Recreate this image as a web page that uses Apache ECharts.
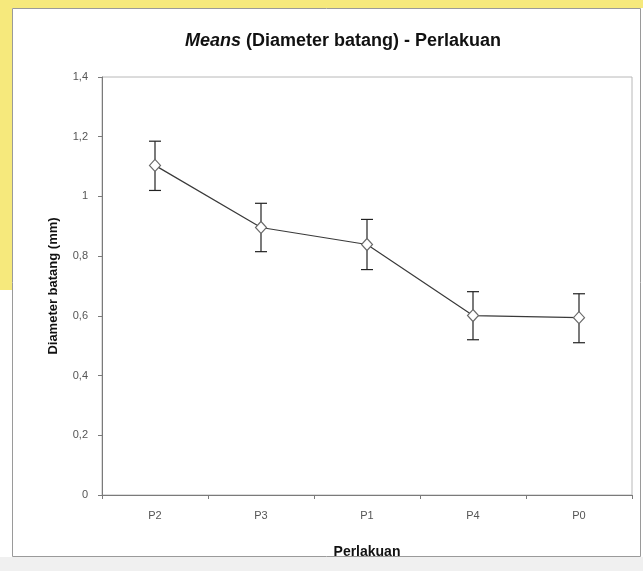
<!DOCTYPE html>
<html>
<head>
<meta charset="utf-8">
<script src="https://cdn.jsdelivr.net/npm/echarts@6/dist/echarts.min.js"></script>
<style>
html,body{margin:0;padding:0;background:#ffffff;}
#chart{width:643px;height:571px;}
</style>
</head>
<body>
<div id="chart"></div>
<script>
const categories = ['P2', 'P3', 'P1', 'P4', 'P0'];
const means = [1.104, 0.896, 0.839, 0.601, 0.594];
const errLow = [1.02, 0.815, 0.755, 0.52, 0.51];
const errHigh = [1.185, 0.977, 0.923, 0.681, 0.674];
const yTicks = { min: 0, max: 1.4, interval: 0.2 };

const chart = echarts.init(document.getElementById('chart'), null, { renderer: 'canvas' });

const errData = categories.map((c, i) => [i, errLow[i], errHigh[i]]);

const option = {
  backgroundColor: '#ffffff',
  animation: false,
  graphic: [
    { type: 'rect', z: -10, shape: { x: 0, y: 0, width: 643, height: 8 }, style: { fill: '#f6e97c' } },
    { type: 'rect', z: -10, shape: { x: 0, y: 0, width: 12, height: 290 }, style: { fill: '#f6e97c' } },
    { type: 'rect', z: -9, shape: { x: 0, y: 557, width: 643, height: 14 }, style: { fill: '#f0f0f0' } },
    { type: 'rect', z: -8, shape: { x: 12.5, y: 8.5, width: 628, height: 548 }, style: { fill: '#ffffff', stroke: '#9a9a9a', lineWidth: 1 } }
  ],
  title: {
    text: '{i|Means} (Diameter batang) - Perlakuan',
    left: 338,
    textAlign: 'center',
    top: 27,
    textStyle: {
      fontFamily: 'Liberation Sans',
      fontSize: 18,
      fontWeight: 'bold',
      color: '#111',
      rich: {
        i: { fontFamily: 'Liberation Sans', fontSize: 18, fontStyle: 'italic', fontWeight: 'bold', color: '#111' }
      }
    }
  },
  grid: {
    left: 102, right: 11, top: 77, bottom: 76,
    show: true, borderColor: '#b8b8b8', borderWidth: 1, backgroundColor: 'transparent'
  },
  xAxis: {
    type: 'category',
    data: categories,
    boundaryGap: true,
    name: 'Perlakuan',
    nameLocation: 'middle',
    nameGap: 50,
    nameTextStyle: { fontFamily: 'Liberation Sans', fontSize: 14, fontWeight: 'bold', color: '#111' },
    axisLine: { lineStyle: { color: '#7a7a7a', width: 1 } },
    axisTick: { show: true, length: 4, lineStyle: { color: '#7a7a7a' } },
    axisLabel: { margin: 15, fontFamily: 'Liberation Sans', fontSize: 11, color: '#555' }
  },
  yAxis: {
    type: 'value',
    min: yTicks.min,
    max: yTicks.max,
    interval: yTicks.interval,
    name: 'Diameter batang (mm)',
    nameLocation: 'middle',
    nameGap: 42,
    nameTextStyle: { fontFamily: 'Liberation Sans', fontSize: 13, fontWeight: 'bold', color: '#111' },
    axisLine: { show: true, lineStyle: { color: '#7a7a7a', width: 1 } },
    axisTick: { show: true, length: 4, lineStyle: { color: '#7a7a7a' } },
    splitLine: { show: false },
    axisLabel: {
      margin: 14,
      fontFamily: 'Liberation Sans', fontSize: 11, color: '#555',
      formatter: v => String(Math.round(v * 10) / 10).replace('.', ',')
    }
  },
  series: [
    {
      type: 'custom',
      z: 2,
      data: errData,
      renderItem: function (params, api) {
        const x = api.value(0);
        const lo = api.coord([x, api.value(1)]);
        const hi = api.coord([x, api.value(2)]);
        const w = 6;
        const st = { stroke: '#222', lineWidth: 1.2 };
        return {
          type: 'group',
          children: [
            { type: 'line', shape: { x1: lo[0], y1: lo[1], x2: hi[0], y2: hi[1] }, style: st },
            { type: 'line', shape: { x1: lo[0] - w, y1: lo[1], x2: lo[0] + w, y2: lo[1] }, style: st },
            { type: 'line', shape: { x1: hi[0] - w, y1: hi[1], x2: hi[0] + w, y2: hi[1] }, style: st }
          ]
        };
      }
    },
    {
      type: 'line',
      z: 3,
      data: means,
      symbol: 'diamond',
      symbolSize: [11, 12],
      lineStyle: { color: '#3a3a3a', width: 1.2 },
      itemStyle: { color: '#ffffff', borderColor: '#6a6a6a', borderWidth: 1.2 }
    }
  ]
};

chart.setOption(option);
</script>
</body>
</html>
